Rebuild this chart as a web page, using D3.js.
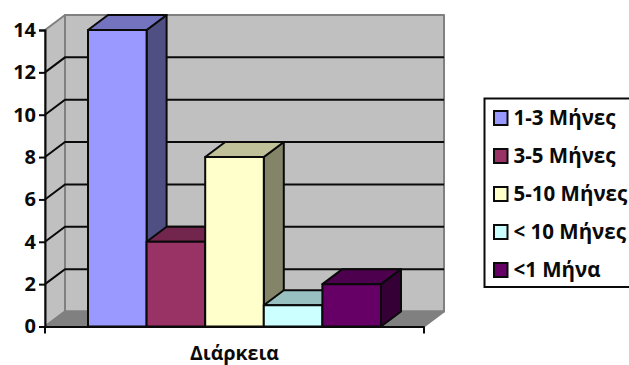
<!DOCTYPE html>
<html>
<head>
<meta charset="utf-8">
<script src="https://cdnjs.cloudflare.com/ajax/libs/d3/7.8.5/d3.min.js"></script>
<style>
html,body{margin:0;padding:0;background:#fff;}
svg{display:block;}
text{font-family:"Open Sans",sans-serif;font-weight:700;fill:#0a0a0a;}
</style>
</head>
<body>
<svg id="chart" width="629" height="365"></svg>
<script>
const category = ["Διάρκεια"];
const seriesNames = ["1-3 Μήνες", "3-5 Μήνες", "5-10 Μήνες", "< 10 Μήνες", "<1 Μήνα"];
const seriesValues = [14, 4, 8, 1, 2];
const seriesColors = ["#9999ff", "#993366", "#ffffcc", "#ccffff", "#660066"];
const tickValues = [0, 2, 4, 6, 8, 10, 12, 14];

const depthX = 20, depthY = -15;
const svg = d3.select("#chart");

const y = d3.scaleLinear().domain([0, 14]).range([326.5, 30]);
const x0 = d3.scaleBand().domain(category).range([45, 424]);
const x1 = d3.scaleBand().domain(seriesNames)
  .range([x0(category[0]) + 43, x0(category[0]) + x0.bandwidth() - 43]);

const poly = pts => "M" + pts.map(p => p.join(",")).join("L") + "Z";
const yMin = y(0), yMax = y(14), xL = x0.range()[0], xR = x0.range()[1];

// walls and floor of the 3D box
const walls = svg.append("g").attr("stroke", "#808080").attr("stroke-width", 2).attr("stroke-linejoin", "round");
walls.append("path").attr("fill", "#c0c0c0")
  .attr("d", poly([[xL + depthX, yMax + depthY], [xR + depthX, yMax + depthY], [xR + depthX, yMin + depthY], [xL + depthX, yMin + depthY]]));
walls.append("path").attr("fill", "#c0c0c0")
  .attr("d", poly([[xL, yMax], [xL + depthX, yMax + depthY], [xL + depthX, yMin + depthY], [xL, yMin]]));
walls.append("path").attr("fill", "#808080")
  .attr("d", poly([[xL, yMin], [xL + depthX, yMin + depthY], [xR + depthX, yMin + depthY], [xR, yMin]]));

// gridlines run along the side wall and across the back wall
const grid = svg.append("g").attr("fill", "none").attr("stroke", "#0a0a0a").attr("stroke-width", 2);
grid.selectAll("path").data(tickValues.filter(v => v > 0 && v < 14)).join("path")
  .attr("d", v => `M${xL},${y(v)}L${xL + depthX},${y(v) + depthY}L${xR + depthX},${y(v) + depthY}`);

// the bars, left to right so each one overlaps its neighbour's side face
const bars = svg.append("g").attr("stroke", "#0a0a0a").attr("stroke-width", 2).attr("stroke-linejoin", "round");
seriesNames.forEach((name, i) => {
  const l = x1(name), r = l + x1.bandwidth(), t = y(seriesValues[i]), b = y(0);
  const base = d3.color(seriesColors[i]);
  const g = bars.append("g");
  g.append("path").attr("fill", base.darker(1.85))
    .attr("d", poly([[r, t], [r + depthX, t + depthY], [r + depthX, b + depthY], [r, b]]));
  g.append("path").attr("fill", base.darker(0.8))
    .attr("d", poly([[l, t], [l + depthX, t + depthY], [r + depthX, t + depthY], [r, t]]));
  g.append("rect").attr("x", l).attr("y", t).attr("width", r - l).attr("height", b - t).attr("fill", base);
});

// value axis
const axisG = svg.append("g").attr("transform", `translate(${xL},0)`)
  .call(d3.axisLeft(y).tickValues(tickValues).tickSize(6).tickPadding(3).tickFormat(d3.format("d")));
axisG.select(".domain").attr("stroke", "#0a0a0a").attr("stroke-width", 2);
axisG.selectAll(".tick line").attr("stroke", "#0a0a0a").attr("stroke-width", 2);
axisG.selectAll(".tick text").style("font-family", '"Open Sans",sans-serif').style("font-size", "20px");

// category axis
const catG = svg.append("g").attr("transform", `translate(0,${yMin})`)
  .call(d3.axisBottom(x0).tickValues([]).tickSize(0));
catG.select(".domain").attr("stroke", "#0a0a0a").attr("stroke-width", 2);
[xL, xR].forEach(px => svg.append("line").attr("x1", px).attr("x2", px).attr("y1", yMin).attr("y2", yMin + 7)
  .attr("stroke", "#0a0a0a").attr("stroke-width", 2));
svg.append("text").attr("x", x0(category[0]) + x0.bandwidth() / 2).attr("y", 360)
  .attr("text-anchor", "middle").style("font-size", "19.5px").text(category[0]);

// legend
const legend = svg.append("g");
legend.append("rect").attr("x", 484.5).attr("y", 98.5).attr("width", 160).attr("height", 188.5)
  .attr("fill", "#fff").attr("stroke", "#0a0a0a").attr("stroke-width", 2);
const legendY = d3.scalePoint().domain(seriesNames).range([118, 270]);
const rows = legend.selectAll("g").data(seriesNames).join("g")
  .attr("transform", d => `translate(0,${legendY(d)})`);
rows.append("rect").attr("x", 494).attr("y", -7).attr("width", 13.5).attr("height", 14)
  .attr("fill", (d, i) => seriesColors[i]).attr("stroke", "#0a0a0a").attr("stroke-width", 2);
rows.append("text").attr("x", 513.5).attr("y", 7).style("font-size", "20.5px").text(d => d);
</script>
</body>
</html>
